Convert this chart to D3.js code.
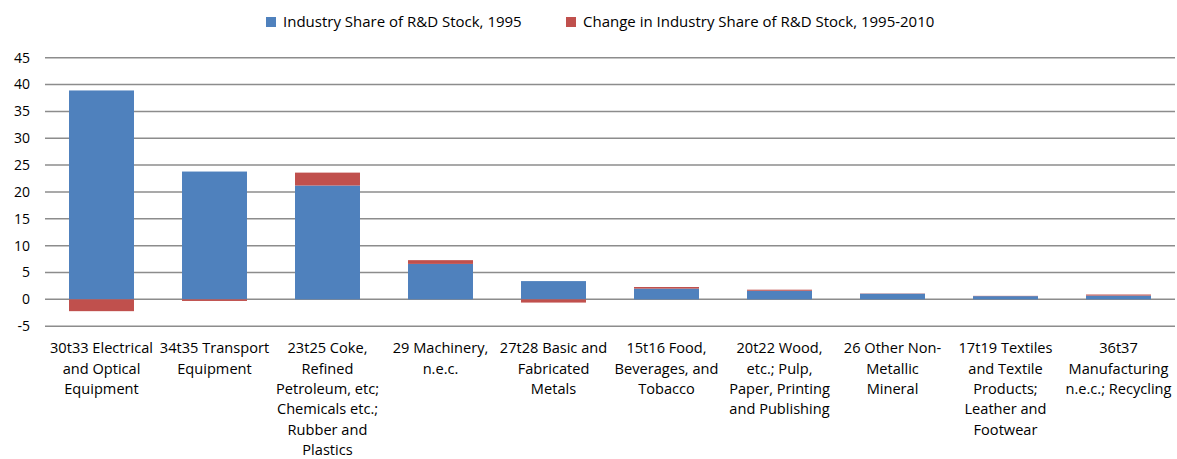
<!DOCTYPE html>
<html>
<head>
<meta charset="utf-8">
<script src="https://cdn.jsdelivr.net/npm/d3@7"></script>
<style>
	body { margin: 0; background: #fff; }
	svg text { font-family: "Open Sans", "Liberation Sans", sans-serif; fill: #000; }
</style>
</head>
<body>
<svg id="chart"></svg>
<script>
// industry codes, with the label lines as they wrap under each bar
var categories = ['30t33', '34t35', '23t25', '29', '27t28', '15t16', '20t22', '26', '17t19', '36t37'];
var categoryLabels = [
	['30t33 Electrical', 'and Optical', 'Equipment'],
	['34t35 Transport', 'Equipment'],
	['23t25 Coke,', 'Refined', 'Petroleum, etc;', 'Chemicals etc.;', 'Rubber and', 'Plastics'],
	['29 Machinery,', 'n.e.c.'],
	['27t28 Basic and', 'Fabricated', 'Metals'],
	['15t16 Food,', 'Beverages, and', 'Tobacco'],
	['20t22 Wood,', 'etc.; Pulp,', 'Paper, Printing', 'and Publishing'],
	['26 Other Non-', 'Metallic', 'Mineral'],
	['17t19 Textiles', 'and Textile', 'Products;', 'Leather and', 'Footwear'],
	['36t37', 'Manufacturing', 'n.e.c.; Recycling']
];
var share1995 = [38.9, 23.8, 21.2, 6.6, 3.4, 2.0, 1.6, 1.05, 0.6, 0.7];
var change19952010 = [-2.2, -0.3, 2.4, 0.7, -0.6, 0.3, 0.2, 0.05, 0.05, 0.2];
var seriesNames = ['Industry Share of R&D Stock, 1995', 'Change in Industry Share of R&D Stock, 1995-2010'];
var seriesColors = ['#4f81bd', '#c0504d'];
var yTicks = [-5, 0, 5, 10, 15, 20, 25, 30, 35, 40, 45];

var width = 1177, height = 459;
var margin = { top: 57.7, right: 2, bottom: 132.8, left: 45 };

var svg = d3.select('#chart').attr('width', width).attr('height', height);

var rows = categories.map(function (c, i) {
	return { cat: c, s0: share1995[i], s1: change19952010[i] };
});

// negative changes hang below zero, like Excel's stacked columns
var stack = d3.stack().keys(['s0', 's1']).offset(d3.stackOffsetDiverging);
var layers = stack(rows);

var x = d3.scaleBand()
	.domain(categories)
	.range([margin.left, width - margin.right])
	.paddingInner(0.425)
	.paddingOuter(0.2125);

var y = d3.scaleLinear()
	.domain([-5, 45])
	.range([height - margin.bottom, margin.top]);

// gridlines
svg.append('g')
	.selectAll('line')
	.data(yTicks)
	.join('line')
	.attr('x1', margin.left)
	.attr('x2', width - margin.right)
	.attr('y1', function (d) { return y(d); })
	.attr('y2', function (d) { return y(d); })
	.attr('stroke', '#8c8c8c')
	.attr('stroke-width', 1.5);

// y axis labels
svg.append('g')
	.selectAll('text')
	.data(yTicks)
	.join('text')
	.attr('x', 30)
	.attr('y', function (d) { return y(d); })
	.attr('dy', '0.35em')
	.attr('text-anchor', 'end')
	.style('font-size', '14px')
	.text(function (d) { return d; });

// bars
svg.append('g')
	.selectAll('g')
	.data(layers)
	.join('g')
	.attr('fill', function (d, i) { return seriesColors[i]; })
	.selectAll('rect')
	.data(function (d) { return d; })
	.join('rect')
	.attr('x', function (d) { return x(d.data.cat); })
	.attr('width', x.bandwidth())
	.attr('y', function (d) { return y(Math.max(d[0], d[1])); })
	.attr('height', function (d) { return Math.abs(y(d[0]) - y(d[1])); });

// category labels
var lab = svg.append('g')
	.selectAll('text')
	.data(categories)
	.join('text')
	.attr('x', function (d) { return x(d) + x.bandwidth() / 2; })
	.attr('y', 348)
	.attr('text-anchor', 'middle')
	.style('font-size', '14.6px');

lab.selectAll('tspan')
	.data(function (d, i) { return categoryLabels[i]; })
	.join('tspan')
	.attr('x', function () { return d3.select(this.parentNode).attr('x'); })
	.attr('dy', function (d, i) { return i === 0 ? '0.35em' : '20.4px'; })
	.text(function (d) { return d; });

// legend
var legendX = [266, 566];
var legend = svg.append('g')
	.selectAll('g')
	.data(seriesNames)
	.join('g')
	.attr('transform', function (d, i) { return 'translate(' + legendX[i] + ',22)'; });

legend.append('rect')
	.attr('x', 0)
	.attr('y', -5)
	.attr('width', 10)
	.attr('height', 10)
	.attr('fill', function (d, i) { return seriesColors[i]; });

legend.append('text')
	.attr('x', 17)
	.attr('y', 0)
	.attr('dy', '0.35em')
	.style('font-size', '15px')
	.text(function (d) { return d; });
</script>
</body>
</html>
